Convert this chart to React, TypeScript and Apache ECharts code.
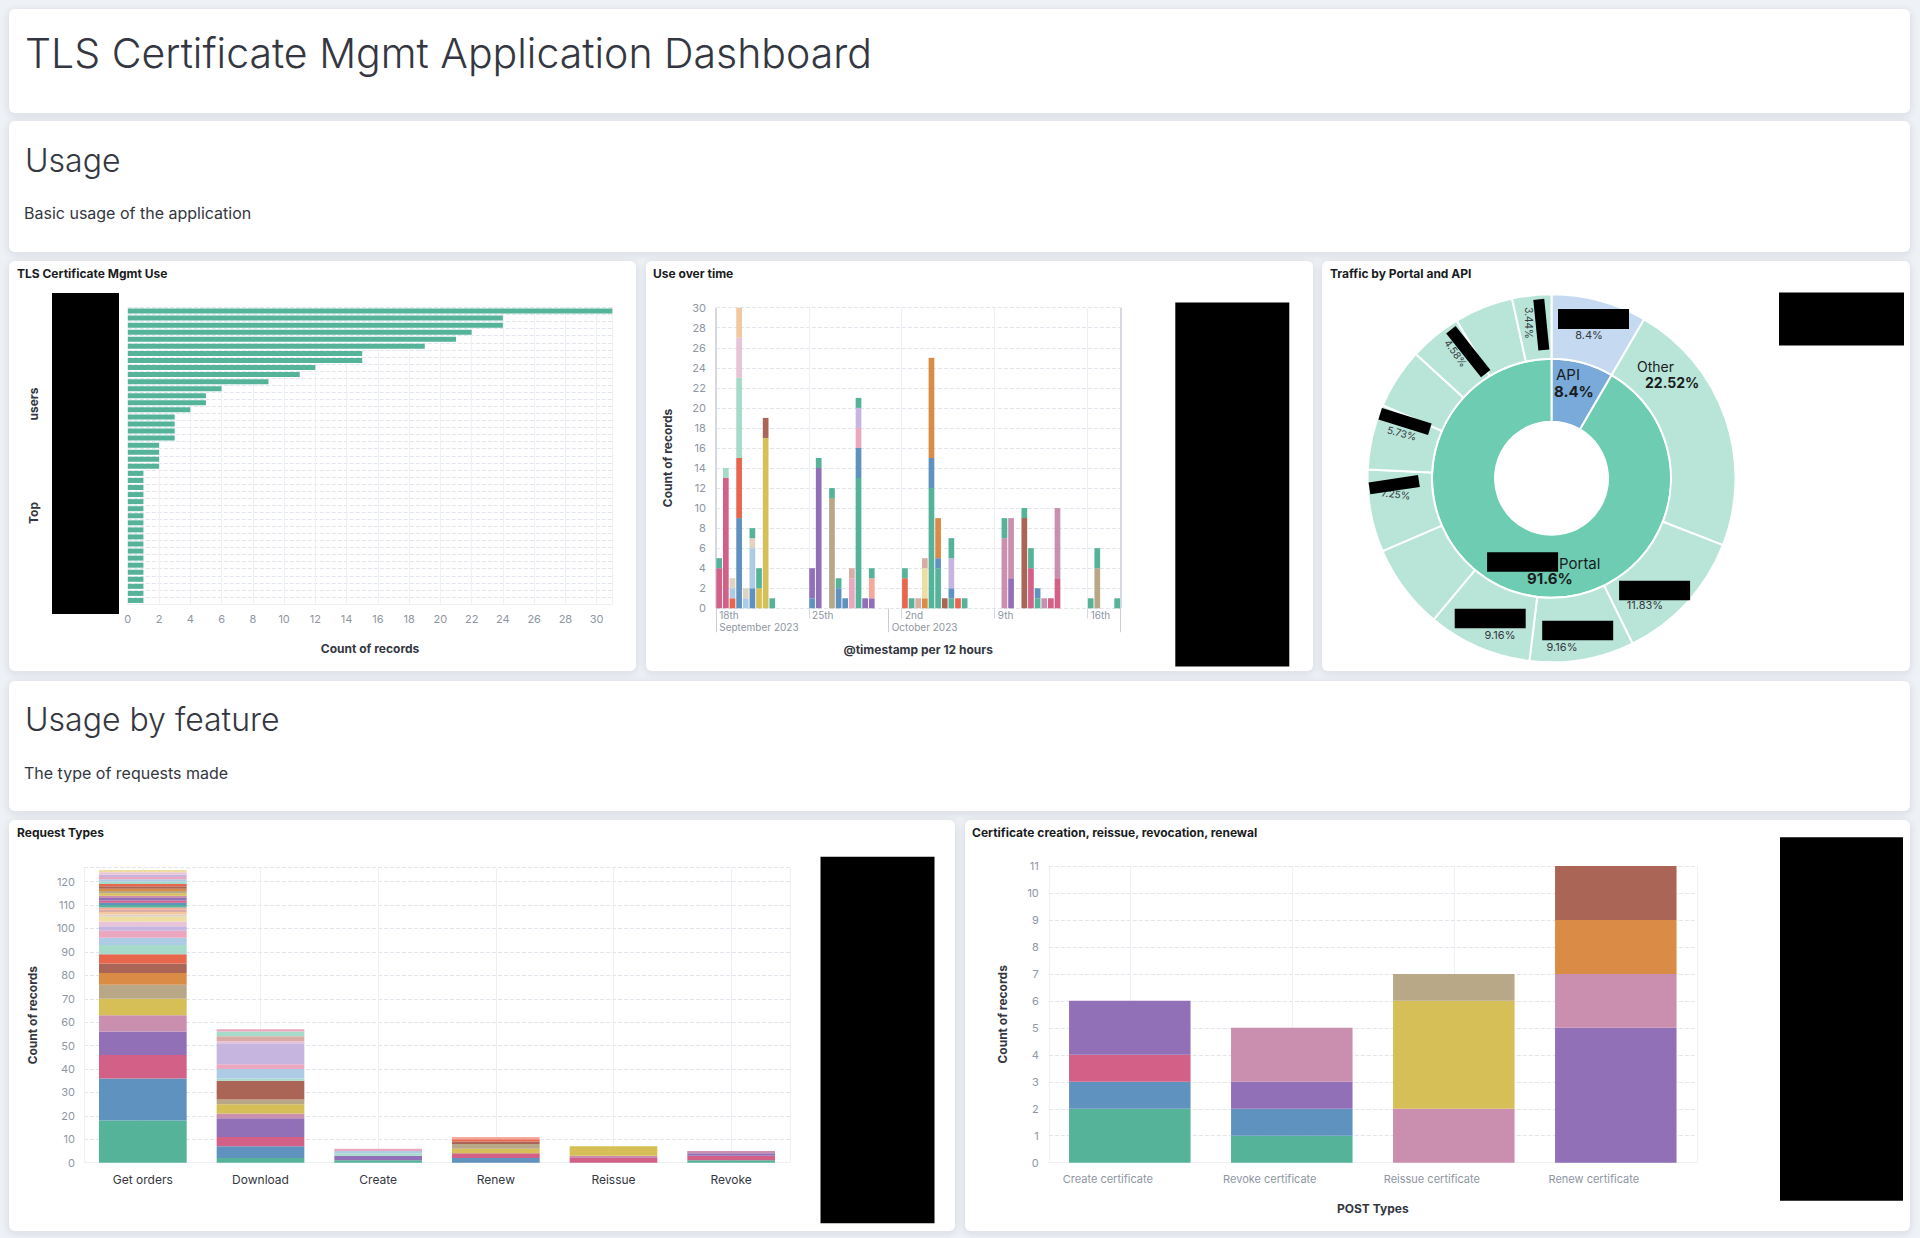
import React, { useEffect, useRef } from "react";
import * as echarts from "echarts";

const FONT = "Inter, 'Noto Sans', 'DejaVu Sans', sans-serif";
const INK = "#343741";
const TITLE_INK = "#1a1c21";
const TICK_INK = "#8e96a3";
const GRID_SOLID = "#eef0f3";
const GRID_DASH = "#e2e6ec";

const COLORS: Record<string, string> = {
  G: "#54B399", B: "#6092C0", P: "#D36086", V: "#9170B8", M: "#CA8EAE",
  Y: "#D6BF57", T: "#B9A888", O: "#DA8B45", BR: "#AA6556", R: "#E7664C",
  lg: "#A6DBC9", lb: "#AECBE6", lp: "#EBA7BF", lv: "#C6B5DE", lm: "#E7C4D7",
  ly: "#EEDEA2", lt: "#DED4C1", pe: "#F3C7A0", lbr: "#D9ACA4", sa: "#F4A99B",
};

type Seg = [string, number];

// ---- TLS Certificate Mgmt Use (top users) ----
const userCounts = [
  31, 24, 24, 22, 21, 19, 15, 15, 12, 11, 9, 6, 5, 5, 4, 3, 3, 3, 3, 2, 2, 2, 2,
  1, 1, 1, 1, 1, 1, 1, 1, 1, 1, 1, 1, 1, 1, 1, 1, 1, 1, 1,
];
const userNames = userCounts.map((_, i) => `user-${i + 1}`);
const usersTicks = { min: 0, max: 31, interval: 2 };

// ---- Use over time (12h buckets from 18 Sep 2023) ----
const timeStart = Date.UTC(2023, 8, 18);
const timeBucketCount = 61;
const dayTickLabels: Record<number, string> = { 0: "18th", 14: "25th", 28: "2nd", 42: "9th", 56: "16th" };
const monthTickLabels: Record<number, string> = { 0: "September 2023", 26: "October 2023" };
const timeBars: [number, Seg[]][] = [
  [0, [["P", 4], ["G", 1]]],
  [1, [["P", 13], ["lg", 1]]],
  [2, [["R", 1], ["lb", 1], ["lt", 1]]],
  [3, [["B", 9], ["R", 6], ["lg", 8], ["lm", 4], ["pe", 3]]],
  [4, [["lb", 1], ["lt", 1]]],
  [5, [["B", 2], ["lb", 4], ["lt", 1], ["G", 1]]],
  [6, [["Y", 2], ["G", 2]]],
  [7, [["Y", 17], ["BR", 2]]],
  [8, [["G", 1]]],
  [14, [["B", 1], ["V", 3]]],
  [15, [["V", 14], ["G", 1]]],
  [17, [["T", 11], ["G", 1]]],
  [18, [["B", 2], ["G", 1]]],
  [19, [["B", 1]]],
  [20, [["lp", 3], ["lbr", 1]]],
  [21, [["G", 13], ["B", 3], ["lp", 2], ["lv", 2], ["G", 1]]],
  [22, [["V", 1]]],
  [23, [["V", 1], ["sa", 2], ["G", 1]]],
  [28, [["R", 3], ["G", 1]]],
  [29, [["G", 1]]],
  [30, [["lbr", 1]]],
  [31, [["O", 1], ["ly", 3], ["lbr", 1]]],
  [32, [["G", 12], ["B", 3], ["O", 10]]],
  [33, [["G", 4], ["B", 1], ["O", 4]]],
  [34, [["BR", 1]]],
  [35, [["G", 1], ["B", 1], ["lv", 3], ["G", 2]]],
  [36, [["R", 1]]],
  [37, [["G", 1]]],
  [43, [["M", 7], ["G", 2]]],
  [44, [["V", 3], ["M", 6]]],
  [46, [["BR", 9], ["G", 1]]],
  [47, [["P", 4], ["G", 2]]],
  [48, [["G", 1], ["B", 1]]],
  [49, [["M", 1]]],
  [50, [["P", 1]]],
  [51, [["P", 3], ["M", 7]]],
  [56, [["G", 1]]],
  [57, [["T", 4], ["G", 2]]],
  [60, [["G", 1]]],
];

// ---- Traffic by Portal and API ----
const trafficInnerNames = ["API", "Portal"];
const trafficInner = [8.4, 91.6];
// outer ring, clockwise from 12 o'clock; first belongs to API, rest to Portal
const trafficOuter = [8.4, 22.52, 11.83, 9.16, 9.16, 7.45, 7.25, 5.73, 5.3, 4.58, 5.18, 3.44];
const trafficOuterParent = [0, 1, 1, 1, 1, 1, 1, 1, 1, 1, 1, 1];

// ---- Request Types ----
const reqCategories = ["Get orders", "Download", "Create", "Renew", "Reissue", "Revoke"];
const reqGetOrders: Seg[] = [
  ["G", 18], ["B", 18], ["P", 10], ["V", 10], ["M", 7], ["Y", 7], ["T", 6], ["O", 5], ["BR", 4], ["R", 4],
  ["lg", 4], ["lb", 3], ["lp", 3], ["lv", 2], ["lm", 2], ["ly", 2], ["lt", 1], ["pe", 1], ["lbr", 1], ["sa", 1],
  ["G", 1], ["B", 1], ["P", 1], ["V", 1], ["M", 1], ["Y", 1], ["T", 1], ["O", 1], ["BR", 1], ["R", 1],
  ["lg", 1], ["lb", 1], ["lp", 1], ["lv", 1], ["lm", 1], ["ly", 1],
];
const reqDownload: Seg[] = [
  ["G", 2], ["B", 5], ["P", 4], ["V", 8], ["M", 2], ["Y", 4], ["T", 2], ["BR", 8],
  ["lg", 1], ["lb", 4], ["lp", 2], ["lv", 9], ["lm", 1], ["lbr", 2], ["lg", 2], ["lp", 1],
];
const reqCreate: Seg[] = [["G", 1], ["V", 2], ["lg", 1], ["lb", 1], ["lp", 1]];
const reqRenew: Seg[] = [["B", 2], ["P", 2], ["Y", 2], ["T", 2], ["BR", 1], ["R", 1], ["sa", 1]];
const reqReissue: Seg[] = [["P", 2], ["M", 1], ["Y", 4]];
const reqRevoke: Seg[] = [["G", 1], ["P", 2], ["V", 1], ["M", 1]];
const reqTicks = { min: 0, max: 126, interval: 10 };

// ---- Certificate creation, reissue, revocation, renewal ----
const certCategories = ["Create certificate", "Revoke certificate", "Reissue certificate", "Renew certificate"];
const certCreate: Seg[] = [["G", 2], ["B", 1], ["P", 1], ["V", 2]];
const certRevoke: Seg[] = [["G", 1], ["B", 1], ["V", 1], ["M", 2]];
const certReissue: Seg[] = [["M", 2], ["Y", 4], ["T", 1]];
const certRenew: Seg[] = [["V", 5], ["M", 2], ["O", 2], ["BR", 2]];
const certTicks = { min: 0, max: 11, interval: 1 };

function stackLayers(segsPerCat: (Seg[] | undefined)[], base: Record<string, unknown>) {
  const depth = Math.max(...segsPerCat.map((s) => (s ? s.length : 0)));
  const out: any[] = [];
  for (let k = 0; k < depth; k++) {
    out.push({
      ...base,
      type: "bar",
      silent: true,
      data: segsPerCat.map((s) =>
        s && s[k] ? { value: s[k][1], itemStyle: { color: COLORS[s[k][0]] } } : { value: 0 }
      ),
    });
  }
  return out;
}

const tickLabel = { color: TICK_INK, fontSize: 11, fontFamily: FONT };
const axisName = { color: INK, fontSize: 12, fontWeight: "bold" as const, fontFamily: FONT };

function txt(x: number, y: number, text: string, size: number, opts: any = {}) {
  const { weight = "normal", color = INK, align = "left", rotation = 0 } = opts;
  return {
    type: "text",
    x,
    y,
    rotation,
    z: 100,
    silent: true,
    style: {
      x: 0,
      y: 0,
      text,
      fill: color,
      fontSize: size,
      fontWeight: weight,
      fontFamily: FONT,
      align,
      textAlign: align,
      verticalAlign: "middle",
      textVerticalAlign: "middle",
    },
  };
}

function panel(x: number, y: number, w: number, h: number) {
  return {
    type: "rect",
    z: -10,
    silent: true,
    shape: { x, y, width: w, height: h, r: 6 },
    style: { fill: "#ffffff", shadowBlur: 8, shadowColor: "rgba(40,50,70,0.12)", shadowOffsetY: 2 },
  };
}

function blackBox(cx: number, cy: number, w: number, h: number, rotation = 0) {
  return {
    type: "rect",
    x: cx,
    y: cy,
    rotation,
    z: 110,
    silent: true,
    shape: { x: -w / 2, y: -h / 2, width: w, height: h },
    style: { fill: "#000000" },
  };
}

function buildOption() {
  const bucketLabels = Array.from({ length: timeBucketCount }, (_, i) =>
    new Date(timeStart + i * 12 * 3600 * 1000).toISOString()
  );
  const timeSegs: (Seg[] | undefined)[] = Array.from({ length: timeBucketCount }, () => undefined);
  timeBars.forEach(([i, segs]) => (timeSegs[i] = segs));

  const isDay = (i: number) => dayTickLabels[i] !== undefined;
  const isMonth = (i: number) => monthTickLabels[i] !== undefined;

  const pct = (v: number) => `${v}%`;

  const graphic: any[] = [
    { type: "rect", z: -20, silent: true, shape: { x: 0, y: 0, width: 1920, height: 1238 }, style: { fill: "#eef1f5" } },
    panel(9, 9, 1901, 104),
    panel(9, 121, 1901, 131),
    panel(9, 261, 627, 410),
    panel(646, 261, 667, 410),
    panel(1322, 261, 588, 410),
    panel(9, 681, 1901, 130),
    panel(9, 820, 946, 411),
    panel(965, 820, 945, 411),

    txt(25, 53, "TLS Certificate Mgmt Application Dashboard", 41, { weight: 300 }),
    txt(25, 160, "Usage", 32, { weight: 300 }),
    txt(24, 213, "Basic usage of the application", 16),
    txt(25, 719, "Usage by feature", 32, { weight: 300 }),
    txt(24, 773, "The type of requests made", 16),

    txt(17, 273, "TLS Certificate Mgmt Use", 12, { weight: "bold", color: TITLE_INK }),
    txt(653, 273, "Use over time", 12, { weight: "bold", color: TITLE_INK }),
    txt(1330, 273, "Traffic by Portal and API", 12, { weight: "bold", color: TITLE_INK }),
    txt(17, 832, "Request Types", 12, { weight: "bold", color: TITLE_INK }),
    txt(972, 832, "Certificate creation, reissue, revocation, renewal", 12, { weight: "bold", color: TITLE_INK }),

    // panel A axis title (middle part redacted in the source)
    txt(33.5, 404, "users", 12, { weight: "bold", align: "center", rotation: Math.PI / 2 }),
    txt(33.5, 513, "Top", 12, { weight: "bold", align: "center", rotation: Math.PI / 2 }),

    // pie labels
    txt(1556, 374, trafficInnerNames[0], 15, { color: "#1a1c21" }),
    txt(1554, 391, pct(trafficInner[0]), 15, { weight: "bold", color: "#1a1c21" }),
    txt(1559, 563, trafficInnerNames[1], 15, { color: "#1a1c21" }),
    txt(1527, 578.5, pct(trafficInner[1]), 15, { weight: "bold", color: "#1a1c21" }),
    txt(1637, 366, "Other", 14, { color: "#1a1c21" }),
    txt(1645, 382, pct(trafficOuter[1]), 14, { weight: "bold", color: "#1a1c21" }),
    txt(1589, 335, pct(trafficOuter[0]), 11, { align: "center" }),
    txt(1645, 605, pct(trafficOuter[2]), 11, { align: "center" }),
    txt(1562, 647, pct(trafficOuter[3]), 11, { align: "center" }),
    txt(1500, 635, pct(trafficOuter[4]), 11, { align: "center" }),
    txt(1396, 494, pct(trafficOuter[6]), 10, { align: "center", rotation: -0.12 }),
    txt(1402, 433, pct(trafficOuter[7]), 10, { align: "center", rotation: -0.25 }),
    txt(1456, 353, pct(trafficOuter[9]), 10, { align: "center", rotation: -0.95 }),
    txt(1528.5, 323, pct(trafficOuter[11]), 10, { align: "center", rotation: -Math.PI / 2 }),

    // redaction boxes
    blackBox(85.5, 453.5, 67, 321),
    blackBox(1232.3, 484.5, 114, 364),
    blackBox(1841.5, 319, 125, 53),
    blackBox(1593.5, 319, 71, 20),
    blackBox(1541.3, 324.7, 11, 51, 0.1),
    blackBox(1468.3, 351.7, 56, 12, -0.9),
    blackBox(1405, 421.5, 52, 12, -0.3),
    blackBox(1394.2, 484.7, 50, 12, 0.15),
    blackBox(1522.6, 562, 71, 19.5),
    blackBox(1654.6, 590.6, 71, 19.5),
    blackBox(1490.2, 618.6, 71, 19.5),
    blackBox(1577.7, 630.6, 71, 19.5),
    blackBox(877.5, 1040, 114, 366.6),
    blackBox(1841.5, 1019, 123, 363.4),
  ];

  const pieItem = { borderColor: "#ffffff", borderWidth: 2 };
  const innerColors = ["#79AAD9", "#6DCCB1"];
  const outerColors = ["#C5DAF0", "#B9E5D8"];

  const series: any[] = [
    {
      type: "bar",
      xAxisIndex: 0,
      yAxisIndex: 0,
      barWidth: 5,
      silent: true,
      itemStyle: { color: "#54B399" },
      data: userCounts,
    },
    ...stackLayers(timeSegs, { xAxisIndex: 1, yAxisIndex: 1, stack: "time", barWidth: 5.7 }),
    ...stackLayers([reqGetOrders, reqDownload, reqCreate, reqRenew, reqReissue, reqRevoke], {
      xAxisIndex: 3,
      yAxisIndex: 2,
      stack: "req",
      barWidth: "74.5%",
    }),
    ...stackLayers([certCreate, certRevoke, certReissue, certRenew], {
      xAxisIndex: 5,
      yAxisIndex: 3,
      stack: "cert",
      barWidth: "75%",
    }),
    {
      type: "pie",
      silent: true,
      center: [1551.5, 478.3],
      radius: [56.5, 119.5],
      startAngle: 90,
      clockwise: true,
      label: { show: false },
      labelLine: { show: false },
      itemStyle: pieItem,
      data: trafficInner.map((v, i) => ({ name: trafficInnerNames[i], value: v, itemStyle: { color: innerColors[i] } })),
    },
    {
      type: "pie",
      silent: true,
      center: [1551.5, 478.3],
      radius: [119.5, 184],
      startAngle: 90,
      clockwise: true,
      label: { show: false },
      labelLine: { show: false },
      itemStyle: pieItem,
      data: trafficOuter.map((v, i) => ({
        name: `slice-${i}`,
        value: v,
        itemStyle: { color: outerColors[trafficOuterParent[i]] },
      })),
    },
  ];

  return {
    animation: false,
    backgroundColor: "transparent",
    textStyle: { fontFamily: FONT },
    graphic,
    grid: [
      { left: 127.8, top: 307.5, width: 484.5, height: 296.5 },
      { left: 715.9, top: 307.7, width: 404.6, height: 300.6 },
      { left: 84, top: 867.6, width: 706, height: 295.1 },
      { left: 1048.8, top: 866, width: 648, height: 296.7 },
    ],
    xAxis: [
      {
        gridIndex: 0,
        type: "value",
        ...usersTicks,
        axisLine: { show: true, lineStyle: { color: GRID_SOLID } },
        axisTick: { show: false },
        axisLabel: { ...tickLabel, margin: 9, showMaxLabel: false },
        splitLine: { show: true, lineStyle: { color: GRID_SOLID } },
        name: "Count of records",
        nameLocation: "middle",
        nameGap: 38,
        nameTextStyle: axisName,
      },
      {
        gridIndex: 1,
        type: "category",
        position: "bottom",
        data: bucketLabels,
        boundaryGap: true,
        axisLine: { show: false },
        axisTick: { show: true, interval: (i: number) => isDay(i), length: 10, lineStyle: { color: "#d3dae6" } },
        axisLabel: {
          ...tickLabel,
          fontSize: 10,
          interval: (i: number) => isDay(i),
          formatter: (_v: string, i: number) => dayTickLabels[i] ?? "",
          align: "left",
          margin: 2,
        },
        splitLine: { show: true, interval: (i: number) => isDay(i), lineStyle: { color: GRID_SOLID } },
        name: "@timestamp per 12 hours",
        nameLocation: "middle",
        nameGap: 35,
        nameTextStyle: axisName,
      },
      {
        gridIndex: 1,
        type: "category",
        position: "bottom",
        data: bucketLabels,
        boundaryGap: true,
        axisLine: { show: false },
        axisTick: { show: true, interval: (i: number) => isMonth(i), length: 24, lineStyle: { color: "#c8ced8" } },
        axisLabel: {
          ...tickLabel,
          fontSize: 10,
          interval: (i: number) => isMonth(i),
          formatter: (_v: string, i: number) => monthTickLabels[i] ?? "",
          align: "left",
          margin: 14,
        },
        splitLine: { show: true, interval: (i: number) => i === 26, lineStyle: { color: "#c8ced8", width: 1.5 } },
      },
      {
        gridIndex: 2,
        type: "category",
        position: "bottom",
        data: reqCategories,
        axisLine: { show: true, lineStyle: { color: GRID_SOLID } },
        axisTick: { show: false },
        axisLabel: { color: INK, fontSize: 12, fontFamily: FONT, margin: 11, interval: 0 },
        splitLine: { show: false },
      },
      {
        gridIndex: 2,
        type: "category",
        position: "bottom",
        data: reqCategories.flatMap((c) => [c + " a", c + " b"]),
        axisLine: { show: false },
        axisTick: { show: false },
        axisLabel: { show: false },
        splitLine: { show: true, interval: (i: number) => i % 2 === 1, lineStyle: { color: GRID_SOLID } },
      },
      {
        gridIndex: 3,
        type: "category",
        position: "bottom",
        data: certCategories,
        axisLine: { show: true, lineStyle: { color: GRID_SOLID } },
        axisTick: { show: false },
        axisLabel: { ...tickLabel, margin: 11, interval: 0, padding: [0, 44, 0, 0] },
        splitLine: { show: false },
        name: "POST Types",
        nameLocation: "middle",
        nameGap: 40,
        nameTextStyle: axisName,
      },
      {
        gridIndex: 3,
        type: "category",
        position: "bottom",
        data: certCategories.flatMap((c) => [c + " a", c + " b"]),
        axisLine: { show: false },
        axisTick: { show: false },
        axisLabel: { show: false },
        splitLine: { show: true, interval: (i: number) => i % 2 === 1, lineStyle: { color: GRID_SOLID } },
      },
    ],
    yAxis: [
      {
        gridIndex: 0,
        type: "category",
        inverse: true,
        data: userNames,
        axisLine: { show: false },
        axisTick: { show: false },
        axisLabel: { show: false },
        splitLine: { show: true, interval: 0, lineStyle: { color: GRID_DASH, type: "dashed" } },
      },
      {
        gridIndex: 1,
        type: "value",
        min: 0,
        max: 30,
        interval: 2,
        axisLine: { show: false },
        axisTick: { show: false },
        axisLabel: { ...tickLabel, margin: 10 },
        splitLine: { show: true, lineStyle: { color: GRID_DASH, type: "dashed" } },
        name: "Count of records",
        nameLocation: "middle",
        nameGap: 42,
        nameTextStyle: axisName,
      },
      {
        gridIndex: 2,
        type: "value",
        ...reqTicks,
        axisLine: { show: true, lineStyle: { color: GRID_SOLID } },
        axisTick: { show: false },
        axisLabel: { ...tickLabel, margin: 9, showMaxLabel: false },
        splitLine: { show: true, lineStyle: { color: GRID_DASH, type: "dashed" } },
        name: "Count of records",
        nameLocation: "middle",
        nameGap: 46,
        nameTextStyle: axisName,
      },
      {
        gridIndex: 3,
        type: "value",
        ...certTicks,
        axisLine: { show: true, lineStyle: { color: GRID_SOLID } },
        axisTick: { show: false },
        axisLabel: { ...tickLabel, margin: 10 },
        splitLine: { show: true, lineStyle: { color: GRID_DASH, type: "dashed" } },
        name: "Count of records",
        nameLocation: "middle",
        nameGap: 40,
        nameTextStyle: axisName,
      },
    ],
    series,
  };
}

export default function App() {
  const ref = useRef<HTMLDivElement>(null);
  useEffect(() => {
    document.body.style.margin = "0";
    const chart = echarts.init(ref.current as HTMLDivElement, undefined, { renderer: "svg" });
    chart.setOption(buildOption() as any);
    return () => chart.dispose();
  }, []);
  return (
    <div
      ref={ref}
      style={{ position: "absolute", left: 0, top: 0, width: 1920, height: 1238, background: "#eef1f5" }}
    />
  );
}
